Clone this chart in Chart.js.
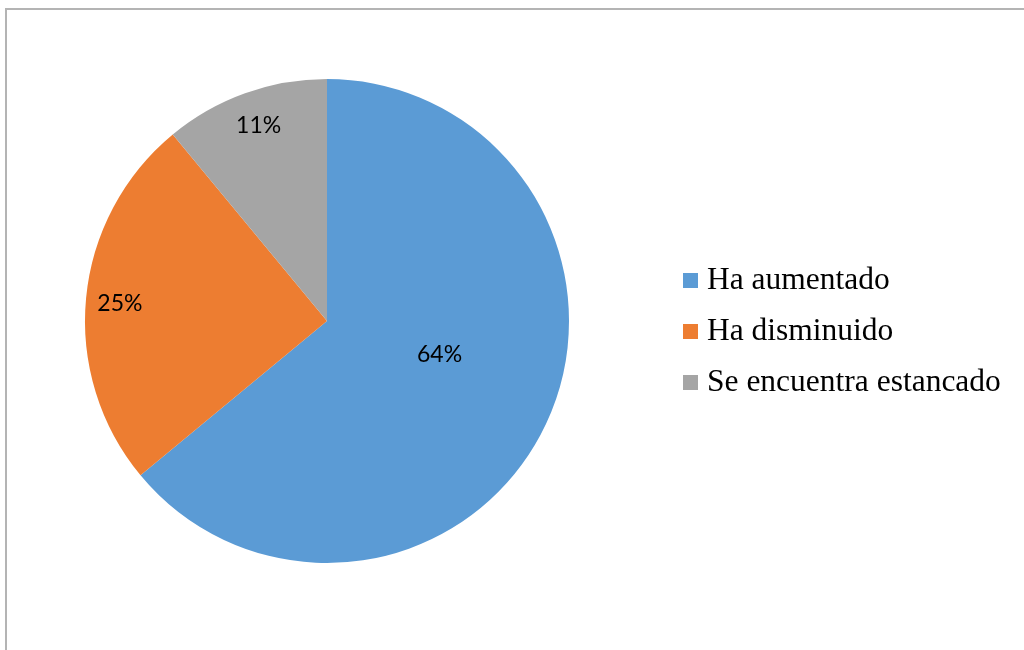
<!DOCTYPE html>
<html>
<head>
<meta charset="utf-8">
<script src="https://cdn.jsdelivr.net/npm/chart.js@4.4.1/dist/chart.umd.min.js"></script>
<style>
    body { margin: 0; background: #fff; }
    #wrap { position: relative; width: 1024px; height: 650px; overflow: hidden; }
    #frame { position: absolute; left: 5px; top: 8px; width: 1100px; height: 700px;
             border-top: 2px solid #b4b4b4; border-left: 2px solid #b4b4b4; }
    #grafico { position: absolute; left: 0; top: 0; }
</style>
</head>
<body>
<div id="wrap">
    <div id="frame"></div>
    <canvas id="grafico" width="1024" height="650"></canvas>
</div>
<script>
const categorias = ['Ha aumentado', 'Ha disminuido', 'Se encuentra estancado'];
const porcentajes = [64, 25, 11];
const colores = ['#5B9BD5', '#ED7D31', '#A5A5A5'];

// posicion de cada etiqueta dentro de su sector (fraccion del radio, fraccion del angulo)
const posEtiquetas = [
    { r: 0.485, t: 0.462 },
    { r: 0.859, t: 0.494 },
    { r: 0.859, t: 0.515 }
];

const etiquetasPlugin = {
    id: 'etiquetas',
    afterDatasetsDraw(chart) {
        const ctx = chart.ctx;
        const arcs = chart.getDatasetMeta(0).data;
        ctx.save();
        ctx.font = '23px Lato';
        ctx.fillStyle = '#000';
        ctx.textAlign = 'center';
        ctx.textBaseline = 'alphabetic';
        arcs.forEach(function (arc, i) {
            const p = arc.getProps(['x', 'y', 'startAngle', 'endAngle', 'outerRadius'], true);
            const a = p.startAngle + (p.endAngle - p.startAngle) * posEtiquetas[i].t;
            const r = p.outerRadius * posEtiquetas[i].r;
            const x = p.x + Math.cos(a) * r;
            const y = p.y + Math.sin(a) * r;
            ctx.fillText(porcentajes[i] + '%', x, y + 8);
        });
        ctx.restore();
    }
};

const leyendaPlugin = {
    id: 'leyenda',
    afterDraw(chart) {
        const ctx = chart.ctx;
        ctx.save();
        ctx.font = '31.5px "Liberation Serif"';
        ctx.textBaseline = 'alphabetic';
        categorias.forEach(function (nombre, i) {
            const y = 273 + i * 51;
            ctx.fillStyle = colores[i];
            ctx.fillRect(683, y, 15, 15);
            ctx.fillStyle = '#000';
            ctx.fillText(nombre, 707, y + 16);
        });
        ctx.restore();
    }
};

new Chart(document.getElementById('grafico'), {
    type: 'pie',
    data: {
        labels: categorias,
        datasets: [{
            data: porcentajes,
            backgroundColor: colores,
            borderWidth: 0
        }]
    },
    options: {
        responsive: false,
        animation: false,
        layout: {
            padding: { left: 85, right: 455, top: 79, bottom: 87 }
        },
        plugins: {
            legend: { display: false },
            tooltip: { enabled: false }
        }
    },
    plugins: [etiquetasPlugin, leyendaPlugin]
});
</script>
</body>
</html>
